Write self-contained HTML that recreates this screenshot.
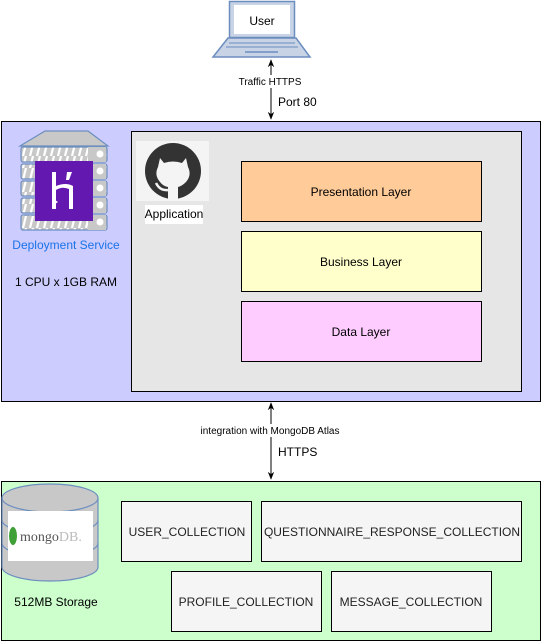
<!DOCTYPE html>
<html><head><meta charset="utf-8"><style>
html,body{margin:0;padding:0;background:#fff;}
svg{display:block;font-family:"Liberation Sans",Arial,sans-serif;}
</style></head><body>
<svg width="542" height="642" viewBox="0 0 542 642" xmlns="http://www.w3.org/2000/svg">
<defs>
<marker id="ah" viewBox="0 0 10 10" refX="9" refY="5" markerWidth="8" markerHeight="8" orient="auto-start-reverse">
<path d="M0,1 L10,5 L0,9 L3,5 Z" fill="#000"/></marker>
<pattern id="st" width="7" height="12" patternUnits="userSpaceOnUse">
<rect width="7" height="12" fill="#c8c8c8"/><path d="M2,12 L5,0" stroke="#fff" stroke-width="2.2"/></pattern>
</defs>
<!-- laptop -->
<rect x="229.5" y="1.5" width="65" height="36" fill="#c8d3e6" stroke="#6c8ebf" stroke-width="1.5"/>
<rect x="234" y="5" width="56" height="29" fill="#fff"/>
<path d="M228,38 L296,38 L310,57 L213,57 Z" fill="#c8d3e6" stroke="#6c8ebf" stroke-width="1.5"/>
<line x1="229" y1="43" x2="295" y2="43" stroke="#6c8ebf"/>
<line x1="226" y1="47" x2="298" y2="47" stroke="#6c8ebf"/>
<line x1="245" y1="52" x2="278" y2="52" stroke="#6c8ebf" stroke-width="1.5"/>
<text x="262" y="25" font-size="12" text-anchor="middle">User</text>
<!-- arrow 1 -->
<line x1="271" y1="60" x2="271" y2="119" stroke="#000" marker-start="url(#ah)" marker-end="url(#ah)"/>
<rect x="232" y="75" width="76" height="13" fill="#fff"/>
<text x="270" y="85" font-size="10" text-anchor="middle">Traffic HTTPS</text>
<text x="278" y="106" font-size="12">Port 80</text>
<!-- blue box -->
<rect x="1.5" y="121.5" width="539" height="280" fill="#ccccff" stroke="#000"/>
<rect x="131.5" y="131.5" width="390" height="260" fill="#e6e6e6" stroke="#000"/>
<!-- server -->
<path d="M20,146 L45,131 L88,131 L108,146 Z" fill="#c8c8c8" stroke="#6c8ebf" stroke-width="1.2"/>
<g stroke="#6c8ebf" stroke-width="1.2">
<rect x="21" y="147" width="86" height="15" rx="2" fill="url(#st)"/>
<rect x="21" y="164" width="86" height="15" rx="2" fill="url(#st)"/>
<rect x="21" y="181" width="86" height="15" rx="2" fill="url(#st)"/>
<rect x="21" y="198" width="86" height="15" rx="2" fill="url(#st)"/>
<rect x="21" y="215" width="86" height="15" rx="2" fill="url(#st)"/>
</g>
<g fill="#fff"><rect x="88" y="147" width="18" height="15" fill="#c8c8c8"/><rect x="88" y="164" width="18" height="15" fill="#c8c8c8"/><rect x="88" y="181" width="18" height="15" fill="#c8c8c8"/><rect x="88" y="198" width="18" height="15" fill="#c8c8c8"/><rect x="88" y="215" width="18" height="15" fill="#c8c8c8"/>
<circle cx="100" cy="154" r="3.5"/><circle cx="100" cy="171" r="3.5"/><circle cx="100" cy="188" r="3.5"/><circle cx="100" cy="205" r="3.5"/><circle cx="100" cy="222" r="3.5"/></g>
<rect x="35" y="161" width="58" height="60" fill="#6319b0"/>
<path d="M52,172 L56,172 L56,186 Q66,182 73,186 L73,209 L69,209 L69,189 Q62,186 56,190 L56,209 L52,209 Z" fill="#fff"/>
<path d="M67,172 L72,172 L69,180 L66,180 Z" fill="#fff"/>
<path d="M52,198 L58,202 L52,206 Z" fill="#fff"/>
<text x="66" y="249" font-size="12" fill="#1a73e8" text-anchor="middle">Deployment Service</text>
<text x="66" y="286" font-size="12" text-anchor="middle">1 CPU x 1GB RAM</text>
<!-- github -->
<rect x="136" y="141" width="73" height="60" fill="#f4f4f4"/>
<circle cx="173" cy="171" r="28" fill="#333"/>
<path d="M160,158 L164,163 Q173,160 182,163 L186,158 L188,167 Q192,175 186,182 Q182,186 178,187 L178,199 L168,199 L168,187 Q163,186 160,182 Q154,175 158,167 Z" fill="#f4f4f4"/>
<path d="M168,190 Q160,191 156,183" stroke="#f4f4f4" stroke-width="2.5" fill="none"/>
<rect x="145" y="205" width="58" height="19" fill="#fff"/>
<text x="174" y="218" font-size="12" text-anchor="middle">Application</text>
<!-- layers -->
<rect x="241.5" y="161.5" width="240" height="60" fill="#ffcc99" stroke="#000"/>
<text x="361" y="196" font-size="12" text-anchor="middle">Presentation Layer</text>
<rect x="241.5" y="231.5" width="240" height="60" fill="#ffffcc" stroke="#000"/>
<text x="361" y="266" font-size="12" text-anchor="middle">Business Layer</text>
<rect x="241.5" y="301.5" width="240" height="60" fill="#ffccff" stroke="#000"/>
<text x="361" y="336" font-size="12" text-anchor="middle">Data Layer</text>
<!-- arrow 2 -->
<line x1="271" y1="403" x2="271" y2="479" stroke="#000" marker-start="url(#ah)" marker-end="url(#ah)"/>
<rect x="188" y="424" width="164" height="13" fill="#fff"/>
<text x="270" y="434" font-size="10" text-anchor="middle">integration with MongoDB Atlas</text>
<text x="278" y="456" font-size="12">HTTPS</text>
<!-- green box -->
<rect x="1.5" y="481.5" width="539" height="159" fill="#ccffcc" stroke="#000"/>
<path d="M2,498 A48,14 0 0 1 98,498 L98,567 A48,14 0 0 1 2,567 Z" fill="#c8c8c8" stroke="#6c8ebf" stroke-width="1.2"/>
<path d="M2,498 A48,14 0 0 0 98,498 M2,520 A48,14 0 0 0 98,520 M2,543 A48,14 0 0 0 98,543" fill="none" stroke="#6c8ebf" stroke-width="1.2"/>
<rect x="8" y="511" width="85" height="50" fill="#fff"/>
<ellipse cx="13" cy="536" rx="4" ry="9" fill="#3fa037"/>
<text x="20" y="541" font-size="14" font-family="Liberation Serif,serif" fill="#555">mongo<tspan fill="#bbb">DB.</tspan></text>
<text x="56" y="606" font-size="12" text-anchor="middle">512MB Storage</text>
<g fill="#f5f5f5" stroke="#000">
<rect x="121.5" y="501.5" width="130" height="60"/>
<rect x="261.5" y="501.5" width="260" height="60"/>
<rect x="171.5" y="571.5" width="150" height="60"/>
<rect x="331.5" y="571.5" width="160" height="60"/>
</g>
<g font-size="12" text-anchor="middle" fill="#222">
<text x="187" y="536">USER_COLLECTION</text>
<text x="392" y="536">QUESTIONNAIRE_RESPONSE_COLLECTION</text>
<text x="246" y="606">PROFILE_COLLECTION</text>
<text x="411" y="606">MESSAGE_COLLECTION</text>
</g>
</svg>
</body></html>
